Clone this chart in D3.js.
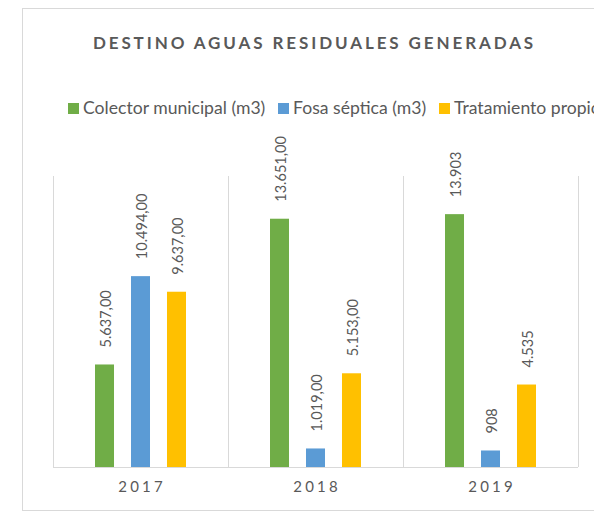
<!DOCTYPE html>
<html>
<head>
<meta charset="utf-8">
<script src="https://cdn.jsdelivr.net/npm/d3@7"></script>
<style>
  html, body { margin: 0; padding: 0; background: #fff; }
  svg { display: block; font-family: Lato, "Open Sans", sans-serif; }
</style>
</head>
<body>
<svg id="chart" width="594" height="513"></svg>
<script>
// Wastewater destination by year (m3)
const years = ["2017", "2018", "2019"];
const seriesNames = ["Colector municipal (m3)", "Fosa séptica (m3)", "Tratamiento propio (m3)"];
const colector = [5637, 13651, 13903];
const fosa = [10494, 1019, 908];
const tratamiento = [9637, 5153, 4535];
const labelColector = ["5.637,00", "13.651,00", "13.903"];
const labelFosa = ["10.494,00", "1.019,00", "908"];
const labelTratamiento = ["9.637,00", "5.153,00", "4.535"];
const colors = ["#70AD47", "#5B9BD5", "#FFC000"];
const yMax = 16000;

const series = [colector, fosa, tratamiento];
const labels = [labelColector, labelFosa, labelTratamiento];

const svg = d3.select("#chart");
const textColor = "#595959";
const gridColor = "#D9D9D9";

// chart frame (runs past the right edge of the view)
svg.append("rect")
  .attr("x", 22.5).attr("y", 8.5)
  .attr("width", 600).attr("height", 502)
  .attr("fill", "#fff").attr("stroke", gridColor).attr("stroke-width", 1);

// title
svg.append("text")
  .attr("x", 314.5).attr("y", 49)
  .attr("text-anchor", "middle")
  .attr("fill", textColor)
  .attr("font-weight", 700)
  .attr("font-size", 17)
  .attr("letter-spacing", 2.9)
  .text("DESTINO AGUAS RESIDUALES GENERADAS");

// legend
const legendX = [68, 278, 439];
const legend = svg.append("g");
seriesNames.forEach((name, i) => {
  legend.append("rect")
    .attr("x", legendX[i]).attr("y", 103)
    .attr("width", 11).attr("height", 11)
    .attr("fill", colors[i]);
  legend.append("text")
    .attr("x", legendX[i] + 15).attr("y", 114)
    .attr("fill", textColor)
    .attr("font-size", 17.6)
    .text(name);
});

// plot area
const plotLeft = 53, plotRight = 578, plotTop = 176, plotBottom = 467;
const x0 = d3.scaleBand().domain(years).range([plotLeft, plotRight]).paddingInner(0).paddingOuter(0);
const x1 = d3.scaleBand().domain(d3.range(3)).range([0, x0.bandwidth()]).paddingOuter(1.167).paddingInner(0.472);
const y = d3.scaleLinear().domain([0, yMax]).range([plotBottom, plotTop]);

// vertical category separators
const bounds = years.map(d => x0(d)).concat([plotRight]);
svg.append("g").selectAll("line").data(bounds).join("line")
  .attr("x1", d => Math.round(d) + 0.5).attr("x2", d => Math.round(d) + 0.5)
  .attr("y1", plotTop).attr("y2", plotBottom)
  .attr("stroke", gridColor);

// baseline axis
const xAxis = svg.append("g")
  .attr("transform", `translate(0,${plotBottom + 0.5})`)
  .call(d3.axisBottom(x0).tickSize(0).tickPadding(14));
xAxis.select(".domain").attr("stroke", gridColor).attr("d", `M${plotLeft},0H${plotRight}`);
xAxis.selectAll("text")
  .attr("fill", textColor)
  .attr("font-size", 15)
  .attr("font-family", "Lato, 'Open Sans', sans-serif")
  .attr("letter-spacing", 3.2)
  .attr("dx", 1.6);

// bars and value labels
const groups = svg.append("g").selectAll("g").data(years).join("g")
  .attr("transform", d => `translate(${x0(d)},0)`);

groups.each(function(year, yi) {
  const g = d3.select(this);
  series.forEach((vals, si) => {
    const v = vals[yi];
    const bx = x1(si);
    g.append("rect")
      .attr("x", bx).attr("y", y(v))
      .attr("width", x1.bandwidth()).attr("height", plotBottom - y(v))
      .attr("fill", colors[si]);
    const cx = bx + x1.bandwidth() / 2;
    const ly = y(v) - 17;
    g.append("text")
      .attr("transform", `translate(${cx + 1},${ly}) rotate(-90)`)
      .attr("text-anchor", "start")
      .attr("dominant-baseline", "central")
      .attr("fill", textColor)
      .attr("font-size", 14.5)
      .text(labels[si][yi]);
  });
});
</script>
</body>
</html>
